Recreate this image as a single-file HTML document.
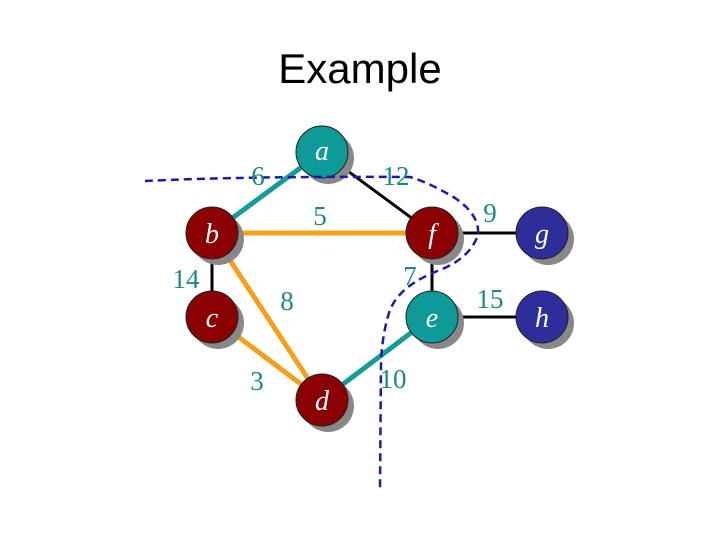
<!DOCTYPE html>
<html><head><style>body{margin:0;background:#fff}</style></head><body>
<svg width="720" height="540" xmlns="http://www.w3.org/2000/svg">
<text x="360" y="83" font-family="Liberation Sans, sans-serif" font-size="42" text-anchor="middle" fill="#000">Example</text>
<g stroke-linecap="butt">
<line x1="322" y1="152" x2="432" y2="233" stroke="#000" stroke-width="3"/>
<line x1="432" y1="233" x2="542" y2="233" stroke="#000" stroke-width="3"/>
<line x1="432" y1="233" x2="432" y2="317" stroke="#000" stroke-width="3"/>
<line x1="432" y1="317" x2="542" y2="317" stroke="#000" stroke-width="3"/>
<line x1="212" y1="233" x2="212" y2="317" stroke="#000" stroke-width="3"/>
<line x1="322" y1="152" x2="212" y2="233" stroke="#139c98" stroke-width="5"/>
<line x1="432" y1="317" x2="322" y2="400" stroke="#139c98" stroke-width="5"/>
<line x1="212" y1="233" x2="432" y2="233" stroke="#f5a01a" stroke-width="5"/>
<line x1="212" y1="233" x2="322" y2="400" stroke="#f5a01a" stroke-width="5"/>
<line x1="212" y1="317" x2="322" y2="400" stroke="#f5a01a" stroke-width="5"/>
</g>
<g fill="#888">
<circle cx="328" cy="158" r="26"/><circle cx="218" cy="239" r="26"/><circle cx="438" cy="239" r="26"/><circle cx="548" cy="239" r="26"/>
<circle cx="218" cy="323" r="26"/><circle cx="438" cy="323" r="26"/><circle cx="548" cy="323" r="26"/><circle cx="328" cy="406" r="26"/>
</g>
<g stroke="#222" stroke-width="1">
<circle cx="322" cy="152" r="26" fill="#0e9a98"/>
<circle cx="212" cy="233" r="26" fill="#8b0000"/>
<circle cx="432" cy="233" r="26" fill="#8b0000"/>
<circle cx="542" cy="233" r="26" fill="#2e2e9a"/>
<circle cx="212" cy="317" r="26" fill="#8b0000"/>
<circle cx="432" cy="317" r="26" fill="#0e9a98"/>
<circle cx="542" cy="317" r="26" fill="#2e2e9a"/>
<circle cx="322" cy="400" r="26" fill="#8b0000"/>
</g>
<g font-family="Liberation Serif, serif" font-style="italic" font-size="28" fill="#fff" text-anchor="middle">
<text x="322" y="160">a</text><text x="212" y="243">b</text><text x="432" y="243">f</text><text x="542" y="243">g</text>
<text x="212" y="327">c</text><text x="432" y="327">e</text><text x="542" y="327">h</text><text x="322" y="410">d</text>
</g>
<path d="M145,181 Q250,176 410,177 Q430,183 455,198 Q480,215 478,235 Q470,258 440,270 Q400,285 390,310 Q383,330 381,360 L380,490" fill="none" stroke="#1a1ab0" stroke-width="2.5" stroke-dasharray="8,5"/>
<g font-family="Liberation Serif, serif" font-size="27" fill="#1a8a80" text-anchor="middle">
<text x="258" y="185">6</text><text x="396" y="185">12</text><text x="320" y="225">5</text><text x="490" y="222">9</text>
<text x="186" y="288">14</text><text x="287" y="310">8</text><text x="410" y="285">7</text><text x="490" y="308">15</text>
<text x="257" y="390">3</text><text x="393" y="388">10</text>
</g>
</svg>
</body></html>
